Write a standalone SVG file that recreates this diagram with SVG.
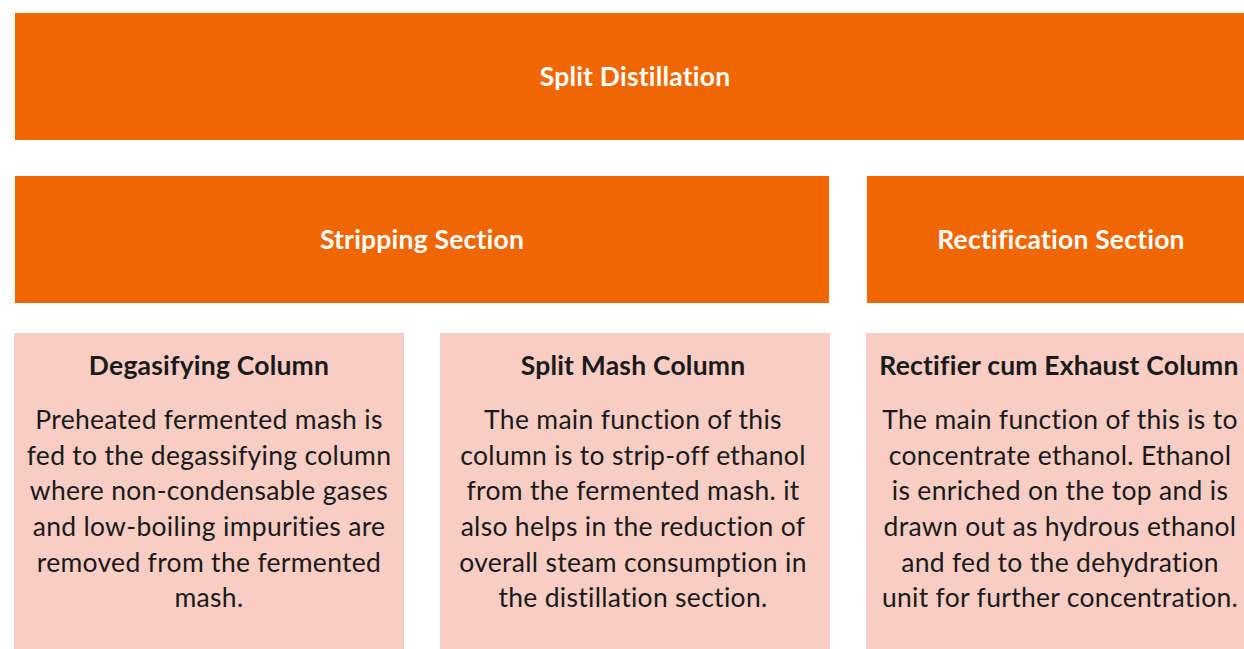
<svg xmlns="http://www.w3.org/2000/svg" width="1244" height="649" viewBox="0 0 1244 649">
  <style>
    .hdr { fill: #F06600; }
    .card { fill: #F8CDC4; }
    .hdr-text { font-family: Lato, "Open Sans", "Liberation Sans", sans-serif; font-weight: bold; font-size: 26.5px; letter-spacing: 0.2px; fill: #FFFFFF; text-anchor: middle; }
    .title { font-family: Lato, "Open Sans", "Liberation Sans", sans-serif; font-weight: bold; font-size: 26.5px; letter-spacing: 0.2px; fill: #1A1A1A; text-anchor: middle; }
    .body { font-family: Lato, "Open Sans", "Liberation Sans", sans-serif; font-size: 26.5px; letter-spacing: 0.3px; fill: #1A1A1A; text-anchor: middle; }
  </style>

  <rect width="1244" height="649" fill="#FFFFFF"/>

  <!-- top-level heading -->
  <g id="split-distillation">
    <rect class="hdr" x="15" y="13" width="1240" height="127"/>
    <text class="hdr-text" x="635" y="86">Split Distillation</text>
  </g>

  <!-- section headings -->
  <g id="stripping-section">
    <rect class="hdr" x="15" y="176" width="814" height="127"/>
    <text class="hdr-text" x="422" y="249">Stripping Section</text>
  </g>
  <g id="rectification-section">
    <rect class="hdr" x="867" y="176" width="388" height="127"/>
    <text class="hdr-text" x="1061" y="249">Rectification Section</text>
  </g>

  <!-- column cards -->
  <g id="degasifying-column">
    <rect class="card" x="14" y="333" width="390" height="316"/>
    <text class="title" x="209" y="375">Degasifying Column</text>
    <text class="body" x="209" y="429">Preheated fermented mash is</text>
    <text class="body" x="209" y="465">fed to the degassifying column</text>
    <text class="body" x="209" y="500">where non-condensable gases</text>
    <text class="body" x="209" y="536">and low-boiling impurities are</text>
    <text class="body" x="209" y="572">removed from the fermented</text>
    <text class="body" x="209" y="607">mash.</text>
  </g>

  <g id="split-mash-column">
    <rect class="card" x="440" y="333" width="390" height="316"/>
    <text class="title" x="633" y="375">Split Mash Column</text>
    <text class="body" x="633" y="429">The main function of this</text>
    <text class="body" x="633" y="465">column is to strip-off ethanol</text>
    <text class="body" x="633" y="500">from the fermented mash. it</text>
    <text class="body" x="633" y="536">also helps in the reduction of</text>
    <text class="body" x="633" y="572">overall steam consumption in</text>
    <text class="body" x="633" y="607">the distillation section.</text>
  </g>

  <g id="rectifier-exhaust-column">
    <rect class="card" x="866" y="333" width="390" height="316"/>
    <text class="title" x="1059" y="375">Rectifier cum Exhaust Column</text>
    <text class="body" x="1060" y="429">The main function of this is to</text>
    <text class="body" x="1060" y="465">concentrate ethanol. Ethanol</text>
    <text class="body" x="1060" y="500">is enriched on the top and is</text>
    <text class="body" x="1060" y="536">drawn out as hydrous ethanol</text>
    <text class="body" x="1060" y="572">and fed to the dehydration</text>
    <text class="body" x="1060" y="607">unit for further concentration.</text>
  </g>

  <!-- no connectors are drawn in this layout -->
  <g id="connectors"/>
</svg>
